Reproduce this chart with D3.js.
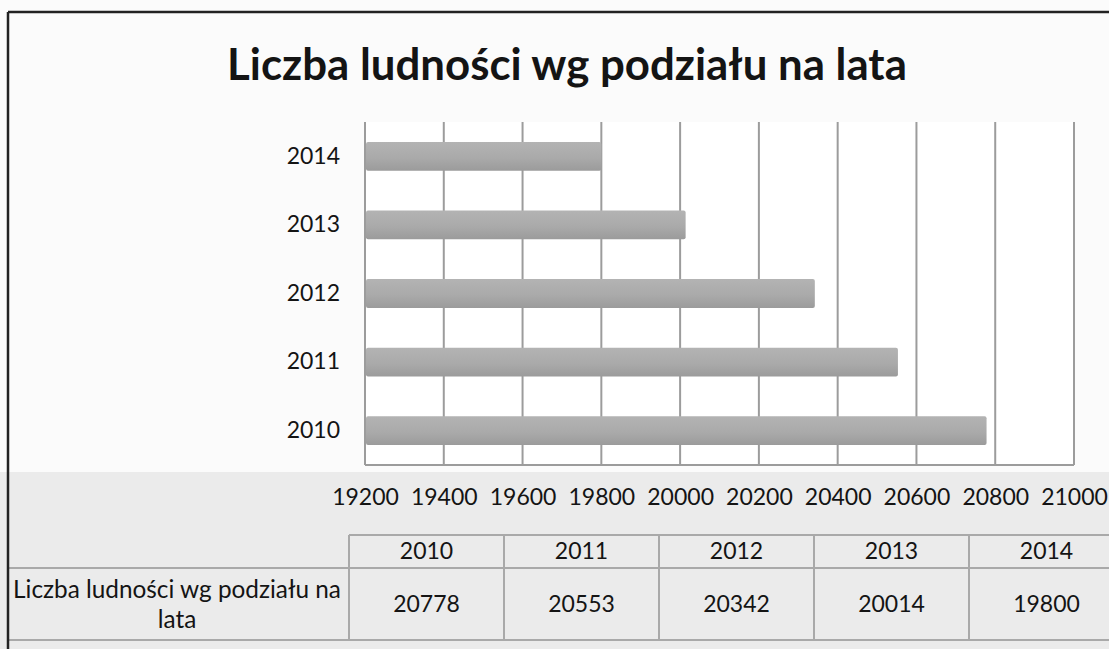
<!DOCTYPE html>
<html>
<head>
<meta charset="utf-8">
<script src="https://cdn.jsdelivr.net/npm/d3@7"></script>
<style>
  body { margin: 0; background: #fff; }
  svg { display: block; }
  text { font-family: Lato, "Open Sans", sans-serif; fill: #141414; }
</style>
</head>
<body>
<div id="chart"></div>
<script>
// data
const title = 'Liczba ludności wg podziału na lata';
const seriesName = 'Liczba ludności wg podziału na lata';
const years = ['2010', '2011', '2012', '2013', '2014'];
const population = [20778, 20553, 20342, 20014, 19800];
const xTicks = [19200, 19400, 19600, 19800, 20000, 20200, 20400, 20600, 20800, 21000];

const width = 1109, height = 649;
const fs = 23;
const svg = d3.select('#chart').append('svg')
    .attr('width', width)
    .attr('height', height);

// background, scan-ish
svg.append('rect').attr('width', width).attr('height', height).attr('fill', '#fbfbfb');
svg.append('rect').attr('x', 0).attr('y', 472).attr('width', width).attr('height', height - 472)
    .attr('fill', '#ebebeb');

// bar gradient
const defs = svg.append('defs');
const grad = defs.append('linearGradient').attr('id', 'barGrad')
    .attr('x1', 0).attr('y1', 0).attr('x2', 0).attr('y2', 1);
grad.append('stop').attr('offset', '0%').attr('stop-color', '#b3b3b3');
grad.append('stop').attr('offset', '55%').attr('stop-color', '#aaaaaa');
grad.append('stop').attr('offset', '100%').attr('stop-color', '#9b9b9b');

// scales
const x = d3.scaleLinear().domain([19200, 21000]).range([365, 1074]);
const y = d3.scaleBand().domain(years.slice().reverse()).range([122, 465])
    .paddingInner(0.58).paddingOuter(0.29);

// plot area
svg.append('rect').attr('x', x(19200)).attr('y', 122)
    .attr('width', x(21000) - x(19200)).attr('height', 465 - 122)
    .attr('fill', '#ffffff');

// gridlines
svg.append('g').selectAll('line').data(xTicks).join('line')
    .attr('x1', d => x(d)).attr('x2', d => x(d))
    .attr('y1', 122).attr('y2', 465)
    .attr('stroke', '#9c9c9c').attr('stroke-width', 2);

// bottom axis line
svg.append('line').attr('x1', x(19200)).attr('x2', x(21000))
    .attr('y1', 465).attr('y2', 465)
    .attr('stroke', '#9c9c9c').attr('stroke-width', 2);

// bars
svg.append('g').selectAll('rect').data(years).join('rect')
    .attr('x', x(19200) + 1)
    .attr('y', d => y(d))
    .attr('width', (d, i) => x(population[i]) - x(19200) - 1)
    .attr('height', y.bandwidth())
    .attr('rx', 2)
    .attr('fill', 'url(#barGrad)');

// x tick labels
const xAxis = d3.axisBottom(x).tickValues(xTicks).tickSize(0).tickPadding(0).tickFormat(d3.format('d'));
const gx = svg.append('g').attr('transform', 'translate(0,489)').call(xAxis);
gx.select('.domain').remove();
gx.selectAll('text').attr('font-size', fs).attr('dy', '0.71em')
    .style('font-family', 'Lato, "Open Sans", sans-serif').attr('fill', '#141414');

// y labels
const yAxis = d3.axisLeft(y).tickSize(0).tickPadding(25);
const gy = svg.append('g').attr('transform', `translate(${x(19200)},0)`).call(yAxis);
gy.select('.domain').remove();
gy.selectAll('text').attr('font-size', fs)
    .style('font-family', 'Lato, "Open Sans", sans-serif').attr('fill', '#141414');

// title, fitted to the width in the reference
const t = svg.append('text')
    .attr('x', 567).attr('y', 80)
    .attr('text-anchor', 'middle')
    .attr('font-size', 44)
    .attr('font-weight', 'bold')
    .text(title);
const tw = t.node().getComputedTextLength();
t.attr('font-size', 44 * 680 / tw);

// data table
const colW = 155, tableLeft = 349, tTop = 535, tMid = 568, tBottom = 640;
const table = svg.append('g');
const lineCol = '#a9a9a9';
table.append('line').attr('x1', tableLeft).attr('x2', width).attr('y1', tTop).attr('y2', tTop)
    .attr('stroke', lineCol).attr('stroke-width', 2);
table.append('line').attr('x1', 8).attr('x2', width).attr('y1', tMid).attr('y2', tMid)
    .attr('stroke', lineCol).attr('stroke-width', 2);
table.append('line').attr('x1', 8).attr('x2', width).attr('y1', tBottom).attr('y2', tBottom)
    .attr('stroke', lineCol).attr('stroke-width', 2);
table.selectAll('.vline').data(d3.range(years.length + 1)).join('line')
    .attr('x1', i => tableLeft + i * colW).attr('x2', i => tableLeft + i * colW)
    .attr('y1', tTop).attr('y2', tBottom)
    .attr('stroke', lineCol).attr('stroke-width', 2);

table.selectAll('.hdr').data(years).join('text')
    .attr('x', (d, i) => tableLeft + colW * i + colW / 2)
    .attr('y', 551).attr('dy', '0.35em')
    .attr('text-anchor', 'middle').attr('font-size', fs)
    .text(d => d);

table.selectAll('.val').data(population).join('text')
    .attr('x', (d, i) => tableLeft + colW * i + colW / 2)
    .attr('y', 604).attr('dy', '0.35em')
    .attr('text-anchor', 'middle').attr('font-size', fs)
    .text(d => d);

// row label wraps on two lines
const words = seriesName.split(' ');
const rowLabel = table.append('text').attr('text-anchor', 'middle').attr('font-size', fs);
rowLabel.append('tspan').attr('x', 177).attr('y', 598).text(words.slice(0, -1).join(' '));
rowLabel.append('tspan').attr('x', 177).attr('y', 628).text(words[words.length - 1]);
const rw = rowLabel.select('tspan').node().getComputedTextLength();
rowLabel.attr('font-size', fs * 328 / rw);

// outer frame
svg.append('line').attr('x1', 8).attr('x2', width).attr('y1', 12).attr('y2', 12)
    .attr('stroke', '#222').attr('stroke-width', 2.5);
svg.append('line').attr('x1', 8).attr('x2', 8).attr('y1', 12).attr('y2', height)
    .attr('stroke', '#222').attr('stroke-width', 2.5);
</script>
</body>
</html>
